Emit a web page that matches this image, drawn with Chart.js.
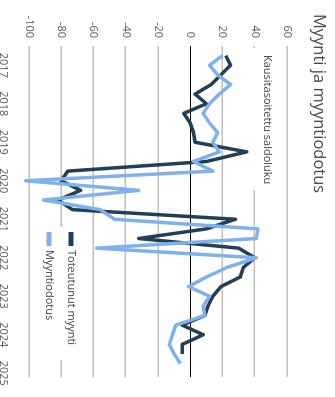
<!DOCTYPE html>
<html>
<head>
<meta charset="utf-8">
<script src="https://cdn.jsdelivr.net/npm/chart.js@4.4.1/dist/chart.umd.min.js"></script>
<style>
  html, body { margin: 0; padding: 0; background: #fff; overflow: hidden; }
  #wrap {
    position: absolute; left: 0; top: 0;
    width: 397px; height: 335px;
    transform-origin: 0 0;
    transform: translate(335px, 0) rotate(90deg);
  }
</style>
</head>
<body>
<div id="wrap"><canvas id="chart" width="397" height="335"></canvas></div>
<script>
// --- Data ---
const quarters = [
  "2017Q1", "2017Q2", "2017Q3", "2017Q4",
  "2018Q1", "2018Q2", "2018Q3", "2018Q4",
  "2019Q1", "2019Q2", "2019Q3", "2019Q4",
  "2020Q1", "2020Q2", "2020Q3", "2020Q4",
  "2021Q1", "2021Q2", "2021Q3", "2021Q4",
  "2022Q1", "2022Q2", "2022Q3", "2022Q4",
  "2023Q1", "2023Q2", "2023Q3", "2023Q4",
  "2024Q1", "2024Q2", "2024Q3", "2024Q4",
  "2025Q1"
];
const toteutunut = [
  22, 25, 19, 13, 3, 10, -4, 0,
  2, 3, 35, 10, -76, -80, -68, -82,
  -73, 28, 10, -32, 30, 40, 33, 31,
  19, 14, 11, 9, -5, 8, -5, -5
];
const myyntiodotus = [
  20, 12, 17, 25, 18, 12, 8, 12,
  17, 14, 18, 2, 14, -102, -32, -91,
  -56, -47, 42, 41, -58, 41, 23, 10,
  -1, 12, 8, 9, -9, -11, -13, -10,
  -6
];
const yearLabels = ["2017", "2018", "2019", "2020", "2021", "2022", "2023", "2024", "2025"];

const DARK = "#233f55";
const LIGHT = "#7fb2ec";

// quarter label -> position on the time axis (end of quarter)
function quarterPos(q) {
  return Number(q.slice(0, 4)) + Number(q.slice(5)) / 4;
}
function toPoints(series) {
  return series.map((v, i) => ({ x: quarterPos(quarters[i]), y: v }));
}

// --- Extra texts: title, series note, legend ---
const notes = {
  id: "notes",
  beforeDatasetsDraw(chart) {
    const ctx = chart.ctx;
    ctx.save();
    // note over the 40 line
    ctx.fillStyle = "#fff";
    ctx.fillRect(48, 58, 142, 26);
    ctx.fillStyle = "#404040";
    ctx.font = "11px 'Open Sans'";
    ctx.textBaseline = "middle";
    ctx.fillText("Kausitasoitettu saldoluku", 55, 68);

    // legend box over the -80 line
    ctx.fillStyle = "#fff";
    ctx.fillRect(227, 255, 133, 40);
    const items = [
      { label: "Toteutunut myynti", color: DARK, y: 264 },
      { label: "Myyntiodotus", color: LIGHT, y: 286 }
    ];
    ctx.font = "11px 'Open Sans'";
    items.forEach(it => {
      ctx.strokeStyle = it.color;
      ctx.lineWidth = 5;
      ctx.beginPath();
      ctx.moveTo(232, it.y);
      ctx.lineTo(246, it.y);
      ctx.stroke();
      ctx.fillStyle = "#404040";
      ctx.fillText(it.label, 250, it.y);
    });
    ctx.restore();
  },
  afterDraw(chart) {
    const ctx = chart.ctx;
    ctx.save();
    ctx.fillStyle = "#4a4a4a";
    ctx.font = "16.5px 'Open Sans'";
    ctx.textBaseline = "middle";
    ctx.fillText("Myynti ja myyntiodotus", 14, 16);
    ctx.restore();
  }
};

Chart.defaults.font.family = "'Open Sans', sans-serif";
Chart.defaults.font.size = 11;
Chart.defaults.color = "#595959";

new Chart(document.getElementById("chart"), {
  type: "line",
  data: {
    datasets: [
      {
        label: "Toteutunut myynti",
        data: toPoints(toteutunut),
        borderColor: DARK,
        borderWidth: 3.5,
        pointRadius: 0,
        tension: 0,
        borderJoinStyle: "round",
        clip: false,
        order: 1
      },
      {
        label: "Myyntiodotus",
        data: toPoints(myyntiodotus),
        borderColor: LIGHT,
        borderWidth: 3.5,
        pointRadius: 0,
        tension: 0,
        borderJoinStyle: "round",
        clip: false,
        order: 0
      }
    ]
  },
  options: {
    responsive: false,
    animation: false,
    devicePixelRatio: 1,
    layout: { padding: { top: 48, right: 14, left: 0, bottom: 0 } },
    plugins: {
      legend: { display: false },
      tooltip: { enabled: false }
    },
    scales: {
      x: {
        type: "linear",
        min: 2017,
        max: 2025.6,
        afterBuildTicks: scale => {
          scale.ticks = yearLabels.map(y => ({ value: Number(y) + 0.5 }));
        },
        afterFit: scale => { scale.height = 29; },
        ticks: {
          autoSkip: false,
          maxRotation: 0,
          padding: 11,
          callback: v => String(Math.floor(v))
        },
        grid: { display: false },
        border: { display: false }
      },
      y: {
        min: -100,
        max: 60,
        afterFit: scale => { scale.width = 46; },
        ticks: { stepSize: 20, padding: 8 },
        grid: {
          drawTicks: false,
          color: c => (c.tick && c.tick.value === 0 ? "#000000" : "#c0c0c0"),
          lineWidth: c => (c.tick && c.tick.value === 0 ? 1 : 1.5)
        },
        border: { display: false }
      }
    }
  },
  plugins: [notes]
});
</script>
</body>
</html>
